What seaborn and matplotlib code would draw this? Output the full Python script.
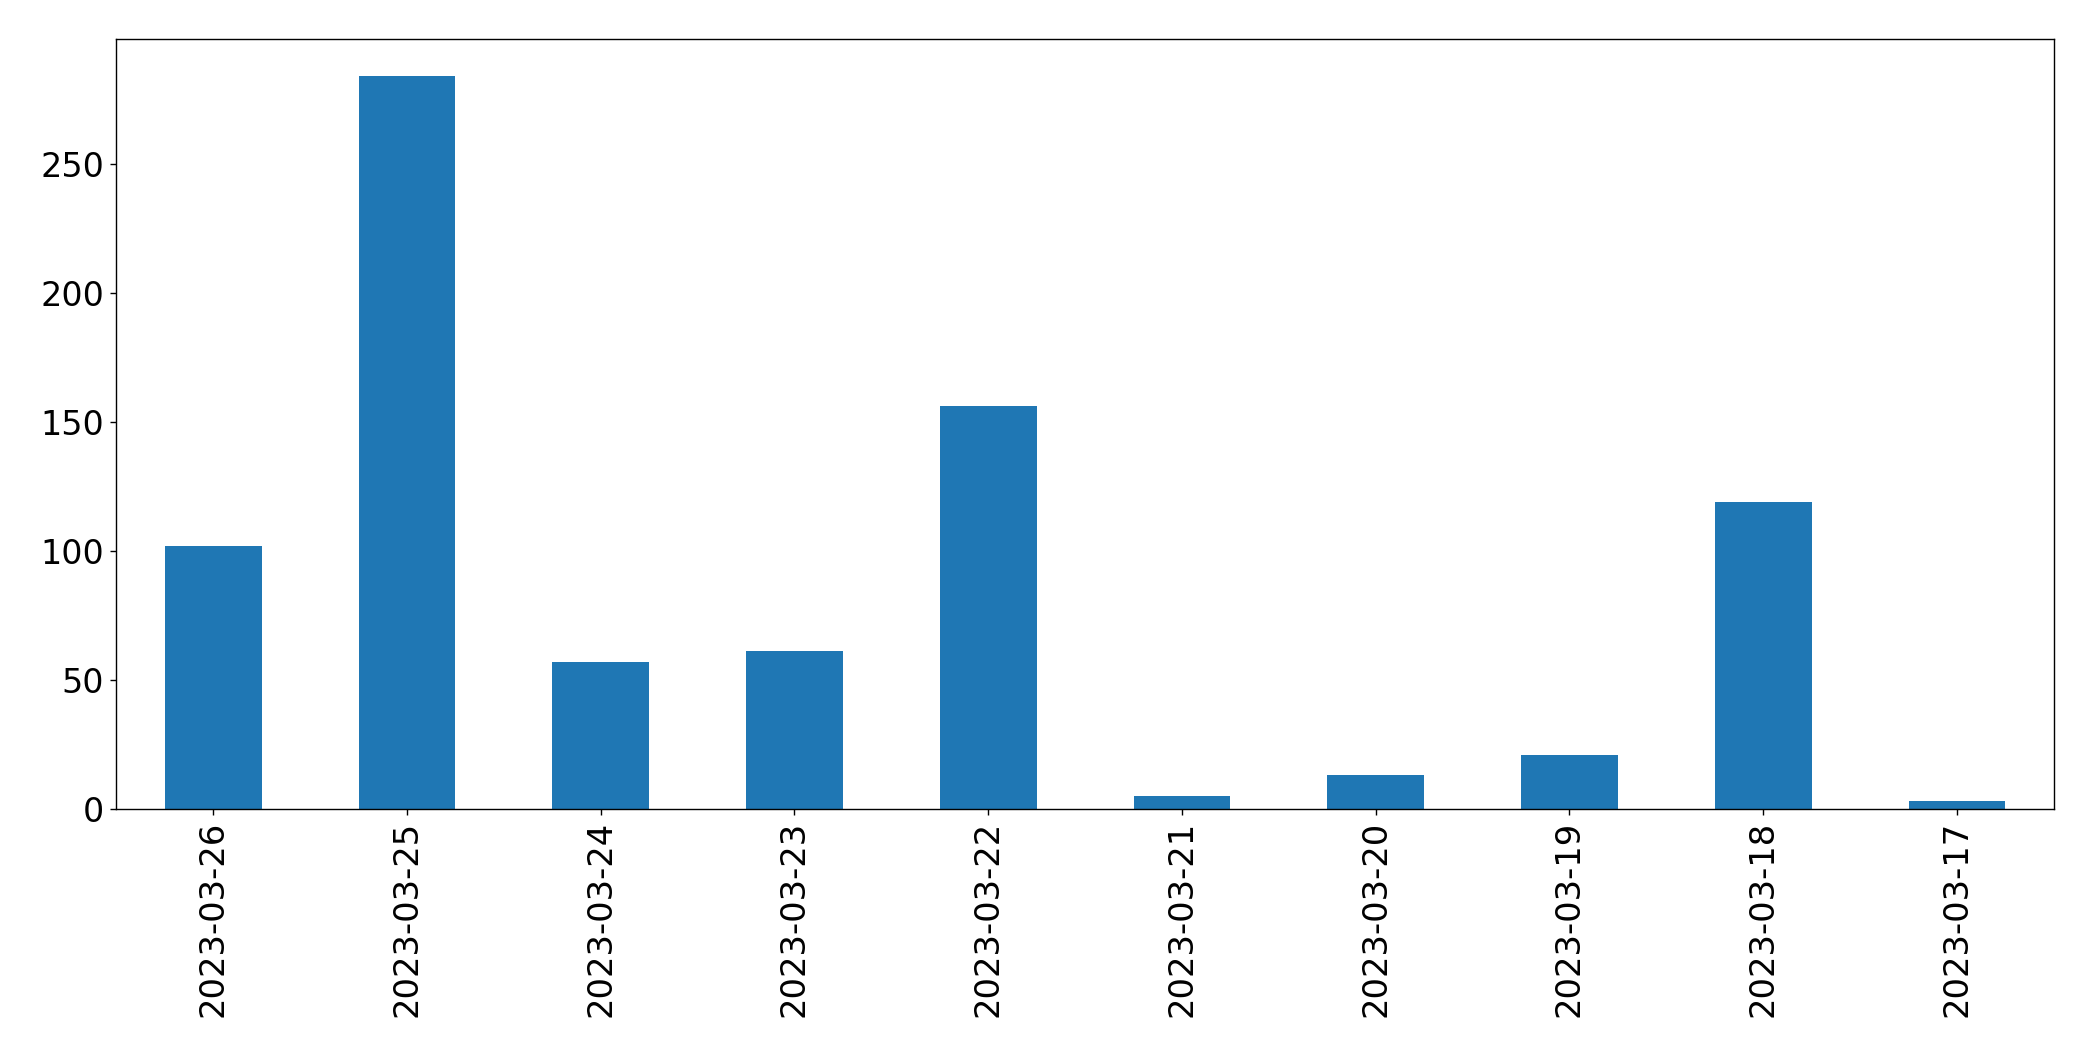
import matplotlib
matplotlib.use("Agg")
import matplotlib.pyplot as plt
import seaborn as sns
import pandas as pd

dates = ["2023-03-26", "2023-03-25", "2023-03-24", "2023-03-23", "2023-03-22",
         "2023-03-21", "2023-03-20", "2023-03-19", "2023-03-18", "2023-03-17"]
counts = [102, 284, 57, 61, 156, 5, 13, 21, 119, 3]

df = pd.DataFrame({"date": dates, "count": counts})

fig = plt.figure(figsize=(20.93, 10.61), dpi=100)
ax = fig.add_axes([0.0556, 0.2378, 0.9257, 0.7252])

sns.barplot(data=df, x="date", y="count", order=dates, color="#1f77b4",
            saturation=1, width=0.5, ax=ax, errorbar=None)

ax.set_xlim(-0.5, len(dates) - 0.5)
ax.set_ylim(0, max(counts) * 1.05)
ax.set_xlabel("")
ax.set_ylabel("")
ax.tick_params(axis="x", labelrotation=90, labelsize=24.3, length=4.4, width=1.0, pad=4.6)
ax.tick_params(axis="y", labelsize=24, length=4.4, width=1.0, pad=4.4)
for s in ax.spines.values():
    s.set_visible(True)
    s.set_color("black")
    s.set_linewidth(1.0)

fig.savefig("out.png", dpi=100)
